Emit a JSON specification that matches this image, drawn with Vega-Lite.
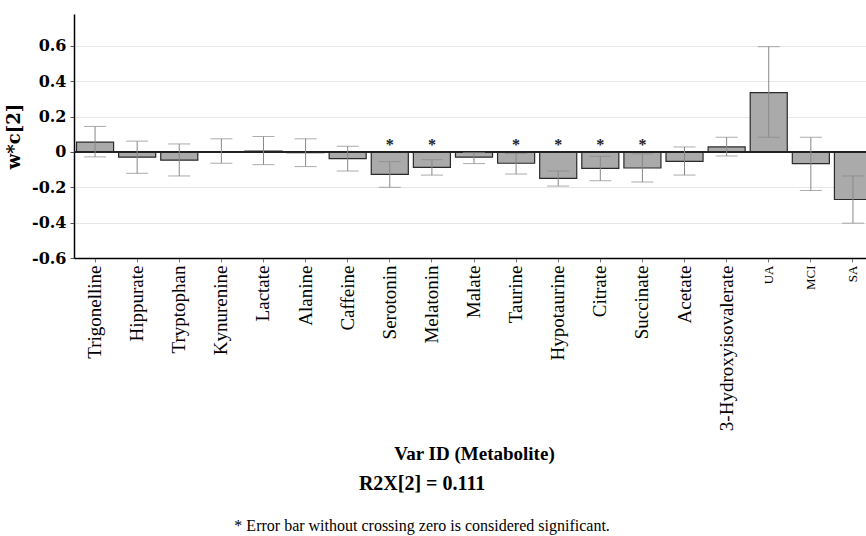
{
  "$schema": "https://vega.github.io/schema/vega-lite/v6.json",
  "autosize": {"type": "none"},
  "width": 800,
  "height": 244,
  "padding": {"left": 74, "top": 14, "right": 0, "bottom": 278},
  "background": "white",
  "config": {
    "font": "Liberation Serif",
    "view": {"stroke": null}
  },
  "title": {
    "text": "R2X[2] = 0.111",
    "subtitle": "* Error bar without crossing zero is considered significant.",
    "orient": "bottom",
    "anchor": "middle",
    "frame": "bounds",
    "dx": -18,
    "offset": 10,
    "font": "Liberation Serif",
    "fontSize": 20,
    "fontWeight": "bold",
    "color": "black",
    "subtitleFont": "Liberation Serif",
    "subtitleFontSize": 16,
    "subtitleColor": "black",
    "subtitlePadding": 24
  },
  "data": {
    "values": [
      {"name": "Trigonelline", "value": 0.055, "lo": -0.028, "hi": 0.144, "sig": ""},
      {"name": "Hippurate", "value": -0.030, "lo": -0.121, "hi": 0.061, "sig": ""},
      {"name": "Tryptophan", "value": -0.047, "lo": -0.136, "hi": 0.045, "sig": ""},
      {"name": "Kynurenine", "value": -0.002, "lo": -0.064, "hi": 0.074, "sig": ""},
      {"name": "Lactate", "value": 0.005, "lo": -0.072, "hi": 0.087, "sig": ""},
      {"name": "Alanine", "value": -0.004, "lo": -0.083, "hi": 0.074, "sig": ""},
      {"name": "Caffeine", "value": -0.038, "lo": -0.108, "hi": 0.032, "sig": ""},
      {"name": "Serotonin", "value": -0.127, "lo": -0.200, "hi": -0.055, "sig": "*"},
      {"name": "Melatonin", "value": -0.087, "lo": -0.131, "hi": -0.044, "sig": "*"},
      {"name": "Malate", "value": -0.030, "lo": -0.066, "hi": -0.004, "sig": ""},
      {"name": "Taurine", "value": -0.064, "lo": -0.125, "hi": -0.009, "sig": "*"},
      {"name": "Hypotaurine", "value": -0.150, "lo": -0.193, "hi": -0.108, "sig": "*"},
      {"name": "Citrate", "value": -0.093, "lo": -0.163, "hi": -0.025, "sig": "*"},
      {"name": "Succinate", "value": -0.091, "lo": -0.170, "hi": -0.011, "sig": "*"},
      {"name": "Acetate", "value": -0.053, "lo": -0.131, "hi": 0.028, "sig": ""},
      {"name": "3-Hydroxyisovalerate", "value": 0.028, "lo": -0.023, "hi": 0.083, "sig": ""},
      {"name": "UA", "value": 0.335, "lo": 0.083, "hi": 0.595, "sig": ""},
      {"name": "MCI", "value": -0.066, "lo": -0.218, "hi": 0.083, "sig": ""},
      {"name": "SA", "value": -0.269, "lo": -0.403, "hi": -0.136, "sig": ""}
    ]
  },
  "encoding": {
    "x": {
      "field": "name",
      "type": "nominal",
      "sort": null,
      "scale": {"paddingInner": 0.12, "paddingOuter": 0.06},
      "axis": {
        "title": "Var ID (Metabolite)",
        "titleFont": "Liberation Serif",
        "titleFontSize": 19,
        "titleFontWeight": "bold",
        "titleColor": "black",
        "titlePadding": 14,
        "labelAngle": -90,
        "labelFont": "Liberation Serif",
        "labelFontSize": {"expr": "datum.value == 'UA' || datum.value == 'MCI' || datum.value == 'SA' ? 13 : 19"},
        "labelColor": "black",
        "labelPadding": 3,
        "domainColor": "black",
        "domainWidth": 1.5,
        "tickColor": "#777",
        "tickSize": 4,
        "grid": false
      }
    }
  },
  "layer": [
    {
      "mark": {"type": "bar", "fill": "#aaaaaa", "stroke": "#2a2a2a", "strokeWidth": 1.2},
      "encoding": {
        "y": {
          "field": "value",
          "type": "quantitative",
          "title": "w*c[2]",
          "scale": {"domain": [-0.6, 0.78], "nice": false, "zero": false},
          "axis": {
            "title": "w*c[2]",
            "titleFont": "DejaVu Serif",
            "titleFontSize": 18,
            "titleFontWeight": "bold",
            "titleColor": "black",
            "titlePadding": 8,
            "values": [-0.6, -0.5, -0.4, -0.3, -0.2, -0.1, 0, 0.1, 0.2, 0.3, 0.4, 0.5, 0.6, 0.7],
            "labelExpr": "round(datum.value*10) % 2 != 0 ? '' : replace(format(datum.value, '.1~f'), '\u2212', '-')",
            "labelFont": "DejaVu Serif",
            "labelFontSize": 16,
            "labelFontWeight": "bold",
            "labelColor": "black",
            "labelPadding": 4,
            "domainColor": "black",
            "domainWidth": 1.5,
            "tickColor": "#555",
            "tickSize": 4,
            "grid": true,
            "gridColor": "#e6e6e6",
            "gridOpacity": {"condition": {"test": "round(datum.value*10) % 2 != 0", "value": 0}, "value": 1}
          }
        },
        "y2": {"datum": 0}
      }
    },
    {
      "mark": {"type": "rule", "color": "#222", "strokeWidth": 1.3},
      "encoding": {"y": {"datum": 0}, "x": null}
    },
    {
      "mark": {"type": "errorbar", "ticks": {"size": 22, "color": "#888", "strokeWidth": 1}, "rule": {"color": "#888", "strokeWidth": 1}},
      "encoding": {
        "y": {"field": "lo", "type": "quantitative", "title": "w*c[2]"},
        "y2": {"field": "hi"}
      }
    },
    {
      "transform": [{"filter": "datum.sig == '*'"}],
      "mark": {"type": "text", "font": "Liberation Serif", "fontSize": 16, "fontWeight": "bold", "color": "#222", "baseline": "middle"},
      "encoding": {
        "y": {"datum": 0.04},
        "text": {"field": "sig"}
      }
    }
  ]
}
